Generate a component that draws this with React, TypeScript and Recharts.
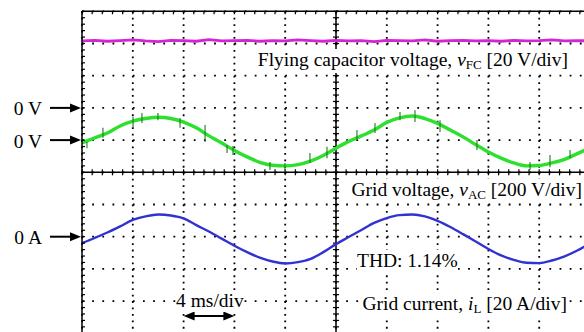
import React from "react";
import { LineChart, Line, XAxis, YAxis, ReferenceLine } from "recharts";

// time axis in ms (4 ms/div, 10 div)
const timeMs = [
  0, 1, 2, 3, 4, 5, 6, 7, 8, 9, 10, 11, 12, 13, 14, 15, 16, 17, 18, 19, 20,
  21, 22, 23, 24, 25, 26, 27, 28, 29, 30, 31, 32, 33, 34, 35, 36, 37, 38, 39, 40,
];

// trace positions in screen divisions (centre = 0)
const fcVoltage = [
  4.08, 4.1, 4.07, 4.09, 4.11, 4.08, 4.06, 4.1, 4.09, 4.07, 4.12, 4.08, 4.09, 4.1,
  4.07, 4.09, 4.08, 4.11, 4.09, 4.07, 4.1, 4.08, 4.09, 4.06, 4.1, 4.09, 4.08, 4.11,
  4.07, 4.09, 4.1, 4.08, 4.09, 4.07, 4.1, 4.08, 4.09, 4.11, 4.08, 4.09, 4.08,
];
const acVoltage = [
  0.91, 1.07, 1.22, 1.44, 1.59, 1.67, 1.71, 1.67, 1.56, 1.38, 1.13, 0.91, 0.68, 0.48,
  0.31, 0.22, 0.2, 0.24, 0.35, 0.52, 0.75, 0.96, 1.13, 1.31, 1.55, 1.69, 1.75, 1.67,
  1.52, 1.31, 1.1, 0.86, 0.63, 0.44, 0.29, 0.2, 0.21, 0.29, 0.4, 0.58, 0.75,
];
const gridCurrent = [
  -2.2, -2.04, -1.87, -1.68, -1.48, -1.37, -1.31, -1.34, -1.43, -1.64, -1.84, -2.06,
  -2.28, -2.48, -2.65, -2.77, -2.83, -2.79, -2.69, -2.48, -2.23, -2.01, -1.79, -1.57,
  -1.42, -1.33, -1.31, -1.37, -1.51, -1.7, -1.92, -2.15, -2.38, -2.58, -2.72, -2.81,
  -2.82, -2.74, -2.61, -2.43, -2.21,
];

// switching spikes on the grid voltage trace
const spikeT = [
  0.39, 1.65, 4.02, 4.72, 5.98, 7.72, 9.69, 11.42, 11.89, 14.8, 15.98, 17.95, 19.29,
  21.65, 23.07, 25.04, 26.22, 28.19, 31.1, 35.28, 36.85, 38.43,
];
const spikeHi = [
  0.95, 1.38, 1.72, 1.84, 1.84, 1.69, 1.47, 0.85, 0.82, 0.32, 0.29, 0.6, 0.79, 1.31,
  1.53, 1.87, 1.93, 1.62, 1.0, 0.32, 0.54, 0.69,
];
const spikeLo = [
  0.75, 1.07, 1.38, 1.53, 1.62, 1.38, 0.94, 0.6, 0.54, 0.07, 0.01, 0.29, 0.44, 1.0,
  1.22, 1.62, 1.56, 1.25, 0.69, 0.07, 0.16, 0.44,
];

const majorX = [0, 4, 8, 12, 16, 20, 24, 28, 32, 36, 40];
const majorY = [-5, -4, -3, -2, -1, 0, 1, 2, 3, 4, 5];
const markerLevels = [2, 1, -2];
const markerLabels = ["0 V", "0 V", "0 A"];
const divSpan = [8, 12];

const minorX = Array.from({ length: 51 }, (_, i) => +(i * 0.8).toFixed(2));
const minorY = Array.from({ length: 51 }, (_, i) => +(-5 + i * 0.2).toFixed(2));

const rows = timeMs.map((t, i) => ({
  t,
  fc: fcVoltage[i],
  ac: acVoltage[i],
  il: gridCurrent[i],
}));

const serif = "'Liberation Serif', 'Times New Roman', serif";

function MarkerTick(props: any) {
  const { x, y, payload } = props;
  const i = markerLevels.indexOf(payload.value);
  return (
    <g>
      <text x={x - 40} y={y + 7.5} textAnchor="end" fontFamily={serif} fontSize={19.5} fill="#000">
        {markerLabels[i]}
      </text>
      <line x1={x - 32} y1={y} x2={x - 10} y2={y} stroke="#000" strokeWidth={2} />
      <polygon points={`${x - 1},${y} ${x - 12},${y - 4.5} ${x - 12},${y + 4.5}`} fill="#000" />
    </g>
  );
}

function DoubleArrow(props: any) {
  const { x1, y1, x2 } = props;
  return (
    <g>
      <line x1={x1 + 8} y1={y1} x2={x2 - 8} y2={y1} stroke="#000" strokeWidth={2} />
      <polygon points={`${x1},${y1} ${x1 + 11},${y1 - 4.5} ${x1 + 11},${y1 + 4.5}`} fill="#000" />
      <polygon points={`${x2},${y1} ${x2 - 11},${y1 - 4.5} ${x2 - 11},${y1 + 4.5}`} fill="#000" />
    </g>
  );
}

const labelStyle: React.CSSProperties = {
  position: "absolute",
  fontFamily: serif,
  fontSize: 19.5,
  lineHeight: "22px",
  background: "#fff",
  color: "#000",
  whiteSpace: "nowrap",
};
const subStyle: React.CSSProperties = { fontSize: 13, position: "relative", top: 3 };

const noTick = () => "";

export default function App() {
  return (
    <div style={{ position: "absolute", left: 0, top: 0, width: 584, height: 332, overflow: "hidden", background: "#fff" }}>
      <LineChart width={600} height={340} data={rows} margin={{ top: 11.3, right: 10, bottom: 6.7, left: 0 }}>
        <XAxis
          xAxisId="t"
          dataKey="t"
          type="number"
          domain={[0, 40]}
          allowDataOverflow
          orientation="top"
          mirror
          ticks={minorX}
          interval={0}
          tickSize={3}
          tickFormatter={noTick}
          axisLine={{ stroke: "#000", strokeWidth: 1.5 }}
          tickLine={{ stroke: "#000", strokeWidth: 1.2 }}
        />
        <YAxis
          yAxisId="g"
          type="number"
          domain={[-5, 5]}
          allowDataOverflow
          orientation="left"
          mirror
          ticks={minorY}
          interval={0}
          tickSize={3}
          tickFormatter={noTick}
          axisLine={{ stroke: "#000", strokeWidth: 1.5 }}
          tickLine={{ stroke: "#000", strokeWidth: 1.2 }}
        />
        <YAxis
          yAxisId="lab"
          type="number"
          domain={[-5, 5]}
          allowDataOverflow
          orientation="left"
          width={82}
          ticks={markerLevels}
          interval={0}
          tickSize={0}
          tickMargin={0}
          axisLine={false}
          tickLine={false}
          tick={<MarkerTick />}
        />
        {majorY.map((v) => (
          <ReferenceLine key={"gy" + v} xAxisId="t" yAxisId="g" y={v} stroke="#000" strokeWidth={1.8} strokeDasharray="1.8 8.36" />
        ))}
        {majorX.map((v) => (
          <ReferenceLine key={"gx" + v} xAxisId="t" yAxisId="g" x={v} stroke="#000" strokeWidth={1.8} strokeDasharray="1.8 4.64" />
        ))}
        <ReferenceLine xAxisId="t" yAxisId="g" y={0} stroke="#000" strokeWidth={1.5} />
        <ReferenceLine xAxisId="t" yAxisId="g" x={20} stroke="#000" strokeWidth={1.5} />
        {minorX.map((v) => (
          <ReferenceLine key={"cx" + v} xAxisId="t" yAxisId="g" segment={[{ x: v, y: -0.095 }, { x: v, y: 0.095 }]} stroke="#000" strokeWidth={1.2} />
        ))}
        {minorY.map((v) => (
          <ReferenceLine key={"cy" + v} xAxisId="t" yAxisId="g" segment={[{ x: 19.76, y: v }, { x: 20.24, y: v }]} stroke="#000" strokeWidth={1.2} />
        ))}
        <Line xAxisId="t" yAxisId="g" type="linear" dataKey="fc" stroke="#d424d4" strokeWidth={2.8} dot={false} isAnimationActive={false} />
        <Line xAxisId="t" yAxisId="g" type="monotone" dataKey="ac" stroke="#2ee02e" strokeWidth={3.4} dot={false} isAnimationActive={false} />
        {spikeT.map((t, i) => (
          <ReferenceLine key={"sp" + i} xAxisId="t" yAxisId="g" segment={[{ x: t, y: spikeLo[i] }, { x: t, y: spikeHi[i] }]} stroke="#1d7a1d" strokeWidth={1.1} />
        ))}
        <Line xAxisId="t" yAxisId="g" type="monotone" dataKey="il" stroke="#3232d2" strokeWidth={2.4} dot={false} isAnimationActive={false} />
        <ReferenceLine
          xAxisId="t"
          yAxisId="g"
          segment={[{ x: divSpan[0], y: -4.46 }, { x: divSpan[1], y: -4.46 }]}
          shape={<DoubleArrow />}
        />
      </LineChart>
      <div style={{ ...labelStyle, right: 16, top: 49 }}>
        Flying capacitor voltage, <i>v</i><span style={subStyle}>FC</span> [20 V/div]
      </div>
      <div style={{ ...labelStyle, right: 2, top: 179 }}>
        Grid voltage, <i>v</i><span style={subStyle}>AC</span> [200 V/div]
      </div>
      <div style={{ ...labelStyle, left: 357, top: 250 }}>THD: 1.14%</div>
      <div style={{ ...labelStyle, right: 17, top: 293 }}>
        Grid current, <i>i</i><span style={subStyle}>L</span> [20 A/div]
      </div>
      <div style={{ ...labelStyle, left: 176, top: 290 }}>4 ms/div</div>
    </div>
  );
}
